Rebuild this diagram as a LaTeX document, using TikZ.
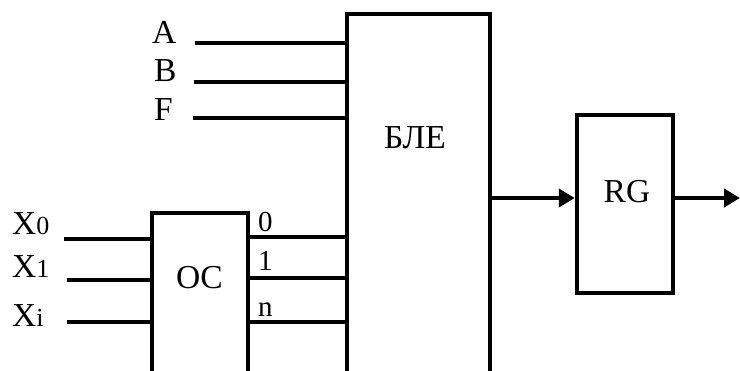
\documentclass[tikz,border=0pt]{standalone}
\usepackage{fontspec}
\setmainfont{Liberation Serif}
\usetikzlibrary{positioning,arrows.meta}
\tikzset{
  blockbox/.style={draw, line width=4.5pt, inner sep=0pt},
  sigline/.style={line width=4.5pt},
  sigarrow/.style={sigline, -{Triangle[length=16pt,width=18pt]}},
  bigtxt/.style={font=\fontsize{33.5}{33.5}\selectfont, inner sep=0pt},
  pintxt/.style={font=\fontsize{29}{29}\selectfont, inner sep=0pt, anchor=base west},
}
\newcommand{\idx}[1]{{\fontsize{26}{26}\selectfont #1}}

\begin{document}
\begin{tikzpicture}[x=1pt, y=-1pt]
\path[use as bounding box, clip] (0,0) rectangle (740,371);
%% Blocks
\node[blockbox, minimum width=143pt, minimum height=380pt] (ble) at (418.5,204) {};
\node[blockbox, minimum width=96pt, minimum height=180pt] (oc) at (200,303) {};
\node[blockbox, minimum width=96pt, minimum height=178pt] (rg) at (625,204) {};
\node[bigtxt] at (415,138) {БЛЕ};
\node[bigtxt] at (199.5,277.5) {OC};
\node[bigtxt] at (627,191.5) {RG};
%% Free ends
\coordinate (inA) at (195,43);
\coordinate (inB) at (194,82);
\coordinate (inF) at (193,118);
\coordinate (inX0) at (64,239);
\coordinate (inX1) at (67,280);
\coordinate (inXi) at (67,322);
\coordinate (q0) at (0,237);
\coordinate (q1) at (0,278);
\coordinate (qn) at (0,322);
\coordinate (mid) at (0,198);
\coordinate (out) at (740,198);
%% Labels
\node[bigtxt, anchor=base west] at (152,44) {A};
\node[bigtxt, anchor=base west] at (154,82) {B};
\node[bigtxt, anchor=base west] at (154,121) {F};
\node[bigtxt, anchor=base west] at (12,235) {X\idx{0}};
\node[bigtxt, anchor=base west] at (12,278) {X\idx{1}};
\node[bigtxt, anchor=base west] at (12,327) {X\idx{i}};
\node[pintxt] at (258,232) {0};
\node[pintxt] at (258,271) {1};
\node[pintxt] at (258,317) {n};
%% Edges
\draw[sigline] (inA) -- (inA -| ble.west);
\draw[sigline] (inB) -- (inB -| ble.west);
\draw[sigline] (inF) -- (inF -| ble.west);
\draw[sigline] (inX0) -- (inX0 -| oc.west);
\draw[sigline] (inX1) -- (inX1 -| oc.west);
\draw[sigline] (inXi) -- (inXi -| oc.west);
\draw[sigline] (oc.east |- q0) -- (ble.west |- q0);
\draw[sigline] (oc.east |- q1) -- (ble.west |- q1);
\draw[sigline] (oc.east |- qn) -- (ble.west |- qn);
\draw[sigarrow] (ble.east |- mid) -- (rg.west |- mid);
\draw[sigarrow] (rg.east |- out) -- (out);
\end{tikzpicture}
\end{document}
